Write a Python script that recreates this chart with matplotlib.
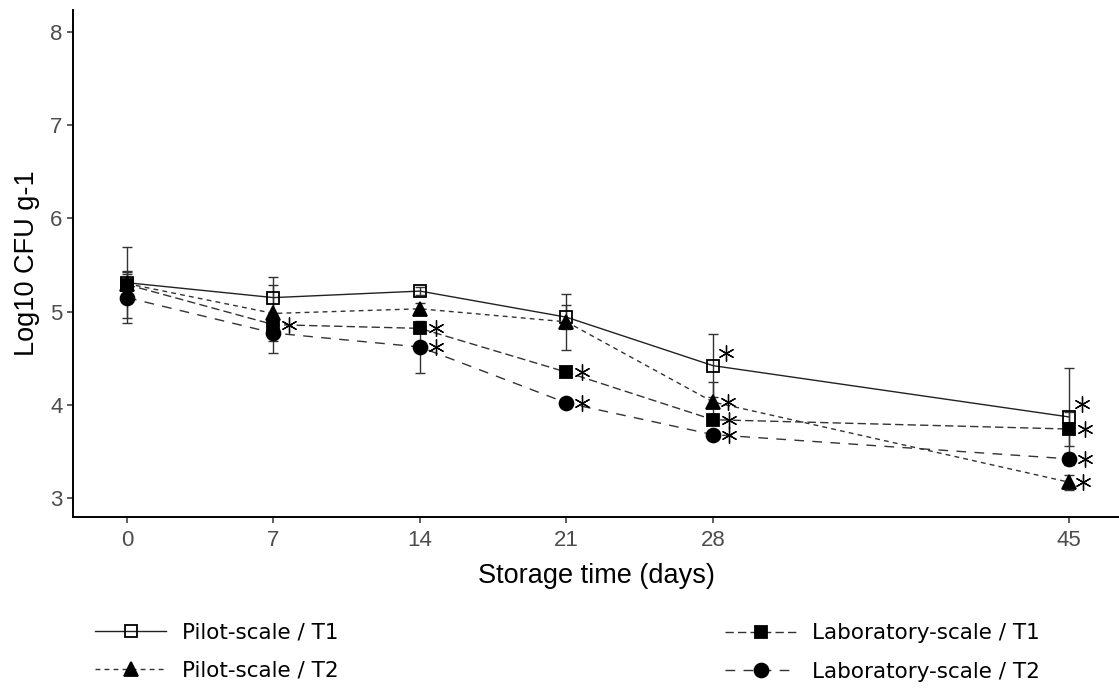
import numpy as np
import matplotlib
matplotlib.use("Agg")
import matplotlib.pyplot as plt
from matplotlib.transforms import offset_copy

plt.rcParams["font.family"] = ["Liberation Sans", "DejaVu Sans"]

# storage days and log10 CFU/g means, error half-widths, significance flags
days = [0, 7, 14, 21, 28, 45]
pilot_t1 = [5.31, 5.15, 5.22, 4.94, 4.42, 3.87]
pilot_t1_err = [0.38, 0.22, 0.04, 0.13, 0.34, 0.52]
pilot_t2 = [5.30, 4.98, 5.03, 4.89, 4.03, 3.17]
pilot_t2_err = [0.10, 0.30, 0.06, 0.30, 0.21, 0.08]
lab_t1 = [5.29, 4.86, 4.82, 4.35, 3.84, 3.74]
lab_t1_err = [0.15, 0.10, 0.05, 0.03, 0.03, 0.18]
lab_t2 = [5.15, 4.77, 4.62, 4.02, 3.68, 3.42]
lab_t2_err = [0.27, 0.21, 0.28, 0.03, 0.03, 0.06]
pilot_t1_sig = [0, 0, 0, 0, 1, 1]
pilot_t2_sig = [0, 0, 0, 0, 1, 1]
lab_t1_sig = [0, 1, 1, 1, 1, 1]
lab_t2_sig = [0, 0, 1, 1, 1, 1]
labels = ["Pilot-scale / T1", "Pilot-scale / T2", "Laboratory-scale / T1", "Laboratory-scale / T2"]
yticks = [3, 4, 5, 6, 7, 8]

series = [
    (pilot_t1, pilot_t1_err, pilot_t1_sig, dict(marker="s", ms=9, mfc="none", ls="-", color="#222222"), (9.5, 9)),
    (pilot_t2, pilot_t2_err, pilot_t2_sig, dict(marker="^", ms=10, mfc="black", ls=(0, (3.5, 3)), color="#333333"), (10.5, 0)),
    (lab_t1, lab_t1_err, lab_t1_sig, dict(marker="s", ms=8.5, mfc="black", ls=(0, (6, 3)), color="#333333"), (11.5, 0)),
    (lab_t2, lab_t2_err, lab_t2_sig, dict(marker="o", ms=10, mfc="black", ls=(0, (7, 6)), color="#333333"), (11.5, 0)),
]

fig = plt.figure(figsize=(11.19, 6.88), dpi=100)
ax = fig.add_axes([73/1119, 1-517/688, 1-73/1119, (517-10)/688])

handles = []
for (y, e, sig, st, off), lab in zip(series, labels):
    ax.errorbar(days, y, yerr=e, fmt="none", ecolor="#333333", elinewidth=1.0, capsize=3.5, capthick=1.0, zorder=2)
    ln, = ax.plot(days, y, lw=1.0, mec="black", mew=1.3, label=lab, zorder=3, **st)
    handles.append(ln)
    d = [x for x, s in zip(days, sig) if s]
    v = [yy for yy, s in zip(y, sig) if s]
    tr = offset_copy(ax.transData, fig=fig, x=off[0], y=off[1], units="points")
    ax.plot(d, v, ls="none", marker=(6, 2, 0), ms=11.5, mew=0.95, color="black", transform=tr, zorder=4)

ax.set_xlim(-2.58, 47.4)
ax.set_ylim(2.796, 8.236)
ax.set_xticks(days)
ax.set_yticks(yticks)
for s in ["top", "right"]:
    ax.spines[s].set_visible(False)
for s in ["left", "bottom"]:
    ax.spines[s].set_linewidth(1.4)
ax.tick_params(length=4, width=1.1, labelsize=16, labelcolor="#4D4D4D", color="#333333")
ax.tick_params(axis="x", pad=5)
ax.set_xlabel("Storage time (days)", fontsize=19.5, labelpad=9)
ax.set_ylabel("Log10 CFU g-1", fontsize=19.5, labelpad=7)

leg_kw = dict(frameon=False, borderpad=0, borderaxespad=0, handlelength=3.3, handletextpad=0.74,
              labelspacing=0.85, numpoints=1, prop={"family": "DejaVu Sans", "size": 15.5})
fig.legend(handles=handles[:2], loc="center left", bbox_to_anchor=(95/1119, 1-651.5/688), **leg_kw)
fig.legend(handles=handles[2:], loc="center left", bbox_to_anchor=(725/1119, 1-652.5/688), **leg_kw)

fig.savefig("out.png", dpi=100)
